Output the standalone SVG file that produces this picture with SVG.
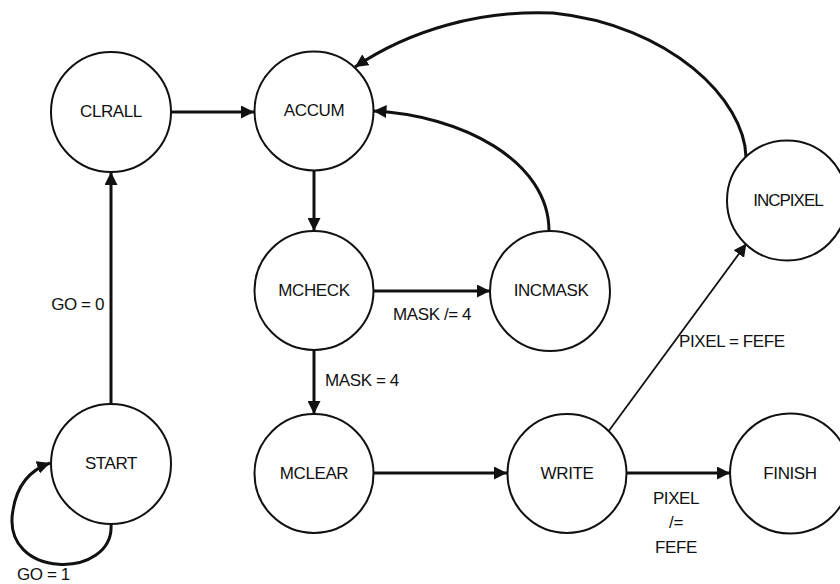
<svg xmlns="http://www.w3.org/2000/svg" width="840" height="584" viewBox="0 0 840 584">
  <defs>
    <marker id="arrow" markerUnits="userSpaceOnUse" markerWidth="14" markerHeight="13" refX="13" refY="6.5" orient="auto">
      <path d="M0,0 L13,6.5 L0,13 Z" fill="#111"/>
    </marker>
    <style>
      .state circle { fill: #fff; stroke: #111; stroke-width: 2; }
      .state text { font-family: "Liberation Sans", Arial, sans-serif; font-size: 17px; fill: #111; text-anchor: middle; letter-spacing: -0.4px; }
      .edge { fill: none; stroke: #111; stroke-width: 3; marker-end: url(#arrow); }
      .edge.thin { stroke-width: 1.8; }
      .label { font-family: "Liberation Sans", Arial, sans-serif; font-size: 17px; fill: #111; letter-spacing: -0.4px; }
    </style>
  </defs>
  <rect width="840" height="584" fill="#fff"/>

  <!-- transitions -->
  <g id="connectors">
    <path class="edge" d="M171,112 L254,112"/>
    <path class="edge" d="M111,404 L111,172"/>
    <path class="edge" d="M314,171 L314,231"/>
    <path class="edge" d="M374,291 L490,291"/>
    <path class="edge" d="M314,350 L314,414"/>
    <path class="edge" d="M374,473 L507,473"/>
    <path class="edge" d="M627,473 L730,473"/>
    <path class="edge thin" d="M608,432 L746.5,243.5"/>
    <path class="edge" d="M549,231 C549,160 460,115 373.5,111"/>
    <path class="edge" d="M746,157 C745,100 670,25 553,13 C480,10 410,30 355,67"/>
    <path class="edge" d="M111,524 C115,580 0,580 13,510 C17,485 30,470 50,463"/>
  </g>

  <!-- transition conditions -->
  <g id="labels">
    <text class="label" x="104" y="310" text-anchor="end">GO = 0</text>
    <text class="label" x="17" y="580">GO = 1</text>
    <text class="label" x="325" y="386">MASK = 4</text>
    <text class="label" x="393" y="320">MASK /= 4</text>
    <text class="label" x="679" y="347">PIXEL = FEFE</text>
    <text class="label" x="676" y="504" text-anchor="middle">PIXEL</text>
    <text class="label" x="676" y="528" text-anchor="middle">/=</text>
    <text class="label" x="676" y="553" text-anchor="middle">FEFE</text>
  </g>

  <!-- states -->
  <g id="CLRALL" class="state"><circle cx="111" cy="112" r="60"/><text x="111" y="117">CLRALL</text></g>
  <g id="ACCUM" class="state"><circle cx="314" cy="111" r="59.5"/><text x="314" y="116">ACCUM</text></g>
  <g id="MCHECK" class="state"><circle cx="314" cy="290.5" r="59.5"/><text x="314" y="296">MCHECK</text></g>
  <g id="INCMASK" class="state"><circle cx="550" cy="291" r="60"/><text x="551" y="296">INCMASK</text></g>
  <g id="INCPIXEL" class="state"><circle cx="787" cy="200.5" r="60"/><text x="788" y="206" style="letter-spacing:-1px">INCPIXEL</text></g>
  <g id="START" class="state"><circle cx="111" cy="464" r="60"/><text x="111" y="469">START</text></g>
  <g id="MCLEAR" class="state"><circle cx="314" cy="473.5" r="59.5"/><text x="314" y="479">MCLEAR</text></g>
  <g id="WRITE" class="state"><circle cx="567" cy="473.5" r="59.5"/><text x="567" y="479">WRITE</text></g>
  <g id="FINISH" class="state"><circle cx="790" cy="473.5" r="60"/><text x="790" y="479">FINISH</text></g>
</svg>
